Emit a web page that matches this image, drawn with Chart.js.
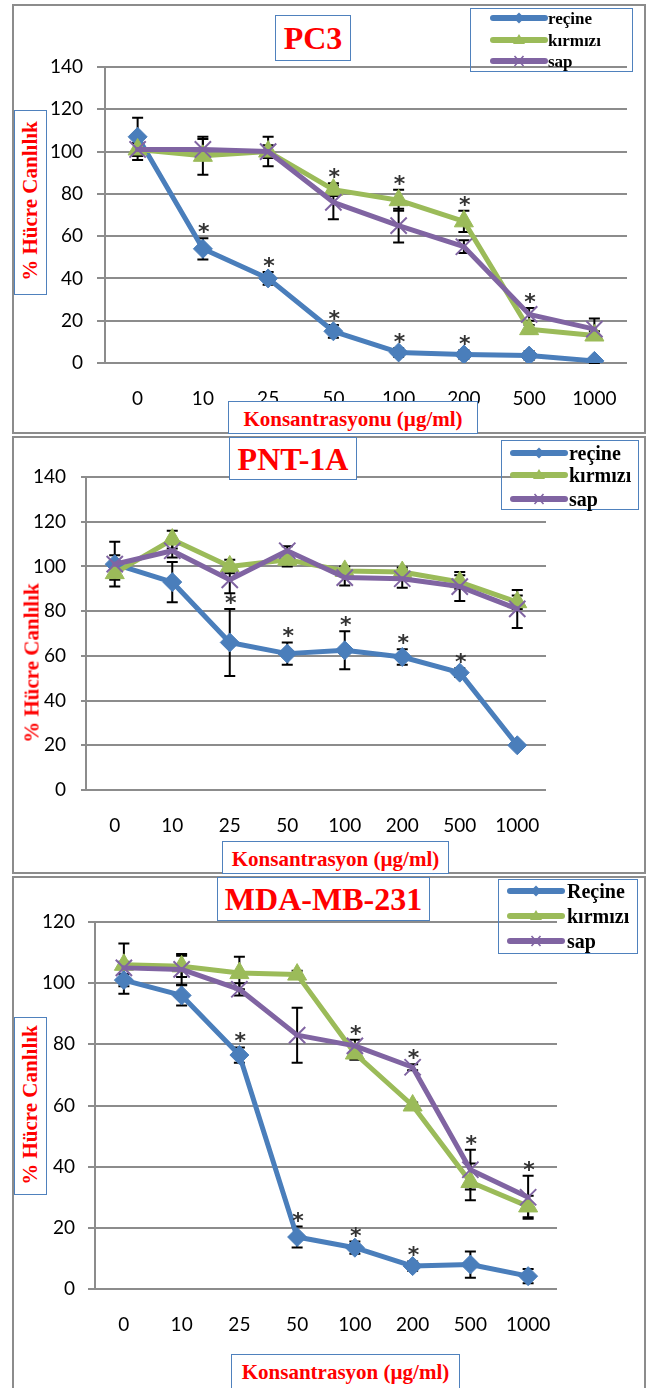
<!DOCTYPE html>
<html><head><meta charset="utf-8">
<script src="https://cdn.jsdelivr.net/npm/chart.js@4.4.1/dist/chart.umd.min.js"></script>
<style>
body{margin:0;background:#fff;width:647px;height:1388px;position:relative;overflow:hidden;font-family:'Liberation Serif','Times New Roman',serif}
.panel{position:absolute;box-sizing:border-box;border:2px solid #8c8c8c}
.cv{position:absolute;left:0}
.box{position:absolute;box-sizing:border-box;border:1.5px solid #4f81bd;background:#fff;display:flex;align-items:center;justify-content:center;color:#f00;font-weight:bold;white-space:nowrap;line-height:1}
.ybox{position:absolute;box-sizing:border-box;border:1.5px solid #4f81bd;background:#fff}
.ytitle{position:absolute;color:#f00;font-weight:bold;font-size:21px;line-height:1;white-space:nowrap;transform:translate(-50%,-50%) rotate(-90deg)}
.legend{position:absolute;box-sizing:border-box;border:1.5px solid #4f81bd}
.ltext{position:absolute;font-weight:bold;color:#000;line-height:1;white-space:nowrap;transform:translateY(-50%)}
.lsvg{position:absolute}
</style>
</head><body>
<div class="panel" style="left:12px;top:4px;width:634px;height:430px"></div>
<div class="panel" style="left:12px;top:436px;width:634px;height:438px"></div>
<div class="panel" style="left:12px;top:876px;width:634px;height:520px"></div>

<canvas id="c1" class="cv" width="647" height="435" style="top:0px"></canvas>
<canvas id="c2" class="cv" width="647" height="440" style="top:435px"></canvas>
<canvas id="c3" class="cv" width="647" height="513" style="top:875px"></canvas>

<div class="box" style="left:275px;top:15px;width:76px;height:46px;font-size:32px">PC3</div>
<div class="box" style="left:229px;top:437px;width:128px;height:43px;font-size:32px">PNT-1A</div>
<div class="box" style="left:217px;top:877px;width:213px;height:44px;font-size:32px">MDA-MB-231</div>

<div class="box" style="left:228px;top:401px;width:250px;height:33px;font-size:21px;padding-top:4px">Konsantrasyonu (µg/ml)</div>
<div class="box" style="left:222px;top:841px;width:227px;height:33px;font-size:21px;padding-top:3px">Konsantrasyon (µg/ml)</div>
<div class="box" style="left:231px;top:1354px;width:229px;height:40px;font-size:21px;align-items:flex-start;padding-top:7px">Konsantrasyon (µg/ml)</div>

<div class="ybox" style="left:14px;top:110px;width:33px;height:185px"></div>
<div class="ytitle" style="left:30px;top:201px">% Hücre Canlılık</div>
<div class="ytitle" style="left:32px;top:663px">% Hücre Canlılık</div>
<div class="ybox" style="left:14px;top:1017px;width:33px;height:178px"></div>
<div class="ytitle" style="left:30px;top:1105px">% Hücre Canlılık</div>

<div id="legends"></div>

<script>
// ---------- data ----------
const categories = ['0', '10', '25', '50', '100', '200', '500', '1000'];
const seriesNames = ['reçine', 'kırmızı', 'sap'];
const seriesNamesMda = ['Reçine', 'kırmızı', 'sap'];

// PC3
const pc3Recine      = [107, 54, 40, 15, 5, 4, 3.5, 1];
const pc3RecineErr   = [9, 5, 3, 3, 2, 2, 2, 1];
const pc3Kirmizi     = [101, 98, 100, 82, 77, 67, 16, 13];
const pc3KirmiziErr  = [5, 9, 7, 3, 5, 5, 2, 2];
const pc3Sap         = [101, 101, 100, 76, 65, 55, 23, 16];
const pc3SapErr      = [3, 5, 3, 8, 8, 3, 3, 5];
const pc3RecineStar  = [0, 1, 1, 1, 1, 1, 0, 0];
const pc3KirmiziStar = [0, 0, 0, 1, 1, 1, 0, 0];
const pc3SapStar     = [0, 0, 0, 0, 0, 0, 1, 0];

// PNT-1A
const pntRecine      = [101, 93, 66, 61, 62.5, 59.5, 52.5, 20];
const pntRecineErr   = [10, 9, 15, 5, 8.5, 3.5, 2, 1];
const pntKirmizi     = [97, 112, 100, 103, 98, 97.5, 93, 84];
const pntKirmiziErr  = [3, 4, 3, 3, 2, 2, 3, 3];
const pntSap         = [101, 107, 94, 107, 95, 94.5, 91, 81];
const pntSapErr      = [4, 3, 6, 2, 3.5, 4, 6.5, 8.5];
const pntRecineStar  = [0, 0, 1, 1, 1, 1, 1, 0];
const pntKirmiziStar = [0, 0, 0, 0, 0, 0, 0, 0];
const pntSapStar     = [0, 0, 0, 0, 0, 0, 0, 0];

// MDA-MB-231
const mdaRecine      = [101, 96, 76.5, 17, 13.5, 7.5, 8, 4.2];
const mdaRecineErr   = [4.5, 3.3, 2.5, 3.4, 2, 1.5, 4.3, 2.3];
const mdaKirmizi     = [106, 105.5, 103.3, 102.8, 77, 60, 35, 27];
const mdaKirmiziErr  = [7, 3.5, 5.3, 1.3, 2, 1, 6, 3.5];
const mdaSap         = [105, 104.5, 98, 83, 79.5, 72.5, 39, 30];
const mdaSapErr      = [2, 5, 2, 9, 2, 1, 6.5, 7];
const mdaRecineStar  = [0, 0, 1, 1, 1, 1, 0, 0];
const mdaKirmiziStar = [0, 0, 0, 0, 0, 0, 0, 0];
const mdaSapStar     = [0, 0, 0, 0, 1, 1, 1, 1];

const yTicksPc3 = { min: 0, max: 140, step: 20 };
const yTicksPnt = { min: 0, max: 140, step: 20 };
const yTicksMda = { min: 0, max: 120, step: 20 };

// ---------- styles ----------
const BLUE = '#4a7ebb', GREEN = '#9bbb59', PURPLE = '#8064a2', GRID = '#8c8c8c';

const errorBarPlugin = {
  id: 'errorBars',
  beforeDatasetsDraw(chart) {
    const ctx = chart.ctx, ys = chart.scales.y;
    ctx.save();
    ctx.strokeStyle = '#000';
    ctx.lineWidth = 2;
    chart.data.datasets.forEach((ds, di) => {
      if (!ds.errors) return;
      const meta = chart.getDatasetMeta(di);
      meta.data.forEach((pt, i) => {
        const e = ds.errors[i];
        if (!e) return;
        const v = ds.data[i];
        const yt = ys.getPixelForValue(v + e), yb = ys.getPixelForValue(v - e);
        ctx.beginPath();
        ctx.moveTo(pt.x, yt); ctx.lineTo(pt.x, yb);
        ctx.moveTo(pt.x - 5.5, yt); ctx.lineTo(pt.x + 5.5, yt);
        ctx.moveTo(pt.x - 5.5, yb); ctx.lineTo(pt.x + 5.5, yb);
        ctx.stroke();
      });
    });
    ctx.restore();
  }
};

const starPlugin = {
  id: 'stars',
  afterDatasetsDraw(chart) {
    const ctx = chart.ctx, ys = chart.scales.y;
    ctx.save();
    ctx.font = 'bold 22px "DejaVu Sans"';
    ctx.fillStyle = '#333';
    ctx.textAlign = 'center';
    ctx.textBaseline = 'alphabetic';
    chart.data.datasets.forEach((ds, di) => {
      if (!ds.stars) return;
      const meta = chart.getDatasetMeta(di);
      meta.data.forEach((pt, i) => {
        if (!ds.stars[i]) return;
        const top = ys.getPixelForValue(ds.data[i] + (ds.errors[i] || 0));
        const cy = top - 12;
        ctx.fillText('*', pt.x + 1, cy + 13);
      });
    });
    ctx.restore();
  }
};

function makeChart(id, names, vals, errs, stars, yt, geo) {
  const colors = [BLUE, GREEN, PURPLE];
  const styles = ['rectRot', 'triangle', 'crossRot'];
  const radii = [9.5, 11, 11.5];
  const orders = [3, 2, 1];
  const datasets = names.map((n, i) => ({
    label: n,
    data: vals[i],
    errors: errs[i],
    stars: stars[i],
    borderColor: colors[i],
    backgroundColor: colors[i],
    borderWidth: 5,
    borderJoinStyle: 'round',
    borderCapStyle: 'round',
    pointStyle: styles[i],
    pointRadius: radii[i],
    pointBorderWidth: i === 2 ? 2 : 1,
    pointBackgroundColor: colors[i],
    pointBorderColor: colors[i],
    tension: 0,
    order: orders[i]
  }));
  return new Chart(document.getElementById(id), {
    type: 'line',
    data: { labels: categories, datasets },
    plugins: [errorBarPlugin, starPlugin],
    options: {
      responsive: false,
      animation: false,
      devicePixelRatio: 1,
      layout: { padding: { left: 0, right: geo.R, top: geo.T, bottom: 0 } },
      plugins: { legend: { display: false }, title: { display: false }, tooltip: { enabled: false } },
      scales: {
        x: {
          offset: true,
          grid: { display: false },
          border: { display: false },
          ticks: { color: '#000', font: { family: 'Lato', size: 19 }, padding: 16, maxRotation: 0, autoSkip: false },
          afterFit: s => { s.height = geo.B; }
        },
        y: {
          min: yt.min, max: yt.max,
          grid: { color: GRID, lineWidth: 2, drawTicks: true, tickLength: geo.TL, tickColor: GRID },
          border: { display: true, color: GRID, width: 2 },
          ticks: { stepSize: yt.step, color: '#000', font: { family: 'Lato', size: 19 }, padding: geo.P },
          afterFit: s => { s.width = geo.L; }
        }
      }
    }
  });
}

makeChart('c1', seriesNames,
  [pc3Recine, pc3Kirmizi, pc3Sap], [pc3RecineErr, pc3KirmiziErr, pc3SapErr],
  [pc3RecineStar, pc3KirmiziStar, pc3SapStar], yTicksPc3,
  { L: 105, R: 20, T: 67, B: 72, TL: 8, P: 14 });
makeChart('c2', seriesNames,
  [pntRecine, pntKirmizi, pntSap], [pntRecineErr, pntKirmiziErr, pntSapErr],
  [pntRecineStar, pntKirmiziStar, pntSapStar], yTicksPnt,
  { L: 86, R: 101, T: 42, B: 85, TL: 5, P: 15 });
makeChart('c3', seriesNamesMda,
  [mdaRecine, mdaKirmizi, mdaSap], [mdaRecineErr, mdaKirmiziErr, mdaSapErr],
  [mdaRecineStar, mdaKirmiziStar, mdaSapStar], yTicksMda,
  { L: 95, R: 90, T: 47, B: 99, TL: 7, P: 13 });

// ---------- legends (HTML) ----------
function markerSvg(kind, color, len) {
  const c = len / 2;
  let m = '';
  if (kind === 0) m = `<polygon points="${c-5.5},7 ${c},1.5 ${c+5.5},7 ${c},12.5" fill="${color}"/>`;
  if (kind === 1) m = `<polygon points="${c-6},11 ${c},1 ${c+6},11" fill="${color}"/>`;
  if (kind === 2) m = `<path d="M${c-4.5} 2 L${c+4.5} 12 M${c-4.5} 12 L${c+4.5} 2" stroke="${color}" stroke-width="1.6"/>`;
  return `<svg width="${len}" height="14" viewBox="0 0 ${len} 14"><line x1="3" y1="7" x2="${len-3}" y2="7" stroke="${color}" stroke-width="6" stroke-linecap="round"/>${m}</svg>`;
}
function makeLegend(box, rows, lineX, lineLen, textX, size, names) {
  const host = document.getElementById('legends');
  const b = document.createElement('div');
  b.className = 'legend';
  Object.assign(b.style, { left: box[0] + 'px', top: box[1] + 'px', width: box[2] + 'px', height: box[3] + 'px' });
  host.appendChild(b);
  const colors = [BLUE, GREEN, PURPLE];
  names.forEach((n, i) => {
    const s = document.createElement('div');
    s.className = 'lsvg';
    s.style.left = lineX + 'px'; s.style.top = (rows[i] - 7) + 'px';
    s.innerHTML = markerSvg(i, colors[i], lineLen);
    host.appendChild(s);
    const t = document.createElement('div');
    t.className = 'ltext';
    t.style.left = textX + 'px'; t.style.top = rows[i] + 'px'; t.style.fontSize = size + 'px';
    t.textContent = n;
    host.appendChild(t);
  });
}
makeLegend([470, 8, 163, 64], [18, 40, 61], 490, 58, 548, 17, seriesNames);
makeLegend([501, 440, 138, 70], [453, 475, 499], 510, 58, 569, 20, seriesNames);
makeLegend([498, 879, 140, 75], [891, 916, 941], 507, 58, 567, 20, seriesNamesMda);
</script>
</body></html>
